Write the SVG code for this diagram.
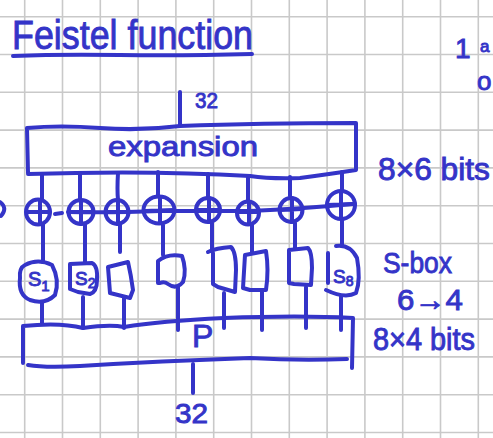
<svg xmlns="http://www.w3.org/2000/svg" width="493" height="438" viewBox="0 0 493 438">
  <defs>
    <style>
      .grid { fill: none; stroke: #c9c9c9; stroke-width: 1.6; }
      .ink { fill: none; stroke: #3434c8; stroke-width: 4; stroke-linecap: round; stroke-linejoin: round; }
      .txt { fill: #3434c8; stroke: #3434c8; stroke-width: 0.9; font-family: "Liberation Sans", "DejaVu Sans", sans-serif; }
    </style>
  </defs>

  <!-- paper -->
  <rect width="493" height="438" fill="#ffffff"/>
  <path class="grid" d="
    M24.7,0 V438 M62.5,0 V438 M100.3,0 V438 M138.1,0 V438 M175.9,0 V438 M213.7,0 V438
    M251.5,0 V438 M289.3,0 V438 M327.1,0 V438 M364.9,0 V438 M402.7,0 V438 M440.5,0 V438 M478.3,0 V438
    M0,16.7 H493 M0,54.5 H493 M0,92.3 H493 M0,130.1 H493 M0,167.9 H493 M0,205.7 H493
    M0,243.5 H493 M0,281.3 H493 M0,319.1 H493 M0,356.9 H493 M0,394.7 H493 M0,432.5 H493"/>

  <!-- heading -->
  <g id="title">
    <text class="txt" x="12" y="49" font-size="40" textLength="241" lengthAdjust="spacingAndGlyphs">Feistel function</text>
    <path class="ink" d="M13,56 Q60,54 120,55 T252,54"/>
  </g>

  <!-- notes at the right edge -->
  <g id="margin-notes">
    <text class="txt" x="455" y="58" font-size="28">1</text>
    <text class="txt" x="480" y="52" font-size="17">a</text>
    <text class="txt" x="477" y="90" font-size="26">o</text>
  </g>

  <!-- wires -->
  <g id="connectors">
    <path class="ink" d="M180,92 L180,125"/>
    <path class="ink" d="M0,202 Q8,208 1,216"/>
    <!-- expansion to xor -->
    <path class="ink" d="M42,175 L42,200 M80,174 L80,200 M118,173 Q117,190 118,200 M158,172 L158,196 M208,174 L208,198 M248,176 L248,201 M290,177 L290,196 M342,172 L342,191"/>
    <!-- key bus -->
    <path class="ink" d="M55,214 L62,213 M68,212 Q110,213 160,211 L250,211 Q300,209 352,204"/>
    <!-- xor to s-boxes -->
    <path class="ink" d="M43,224 L43,262 M85,225 L85,263 M120,224 L120,252 M163,225 L163,255 M212,223 L212,250 M252,225 L252,252 M295,223 L295,248 M342,219 L342,245"/>
    <!-- s-boxes to permutation -->
    <path class="ink" d="M42,302 L42,324 M83,297 L83,328 M124,298 L124,328 M178,287 L178,330 M224,293 L224,328 M262,290 L262,330 M306,287 L306,328 M341,296 L341,330"/>
    <path class="ink" d="M193,364 L193,393"/>
  </g>

  <g id="input-label">
    <text class="txt" x="195" y="108" font-size="22" textLength="23" lengthAdjust="spacingAndGlyphs">32</text>
  </g>

  <g id="expansion">
    <path class="ink" d="M28,173 L27,128 Q60,125 100,128 T180,126 Q260,123 356,123 L356,170 Q330,174 300,178 Q270,179 250,176 Q150,170 28,174"/>
    <text class="txt" x="108" y="156" font-size="27" textLength="150" lengthAdjust="spacingAndGlyphs">expansion</text>
  </g>

  <g id="expansion-label">
    <text class="txt" x="378" y="180" font-size="31" textLength="112" lengthAdjust="spacingAndGlyphs">8×6 bits</text>
  </g>

  <!-- xor gates -->
  <g id="xor-1"><ellipse class="ink" cx="38" cy="212" rx="12" ry="12.5"/><path class="ink" d="M40,201 L40,224 M27,212 L50,212"/></g>
  <g id="xor-2"><ellipse class="ink" cx="81" cy="212" rx="12.5" ry="12"/><path class="ink" d="M81,201 L81,224 M69,212 L93,212"/></g>
  <g id="xor-3"><ellipse class="ink" cx="117" cy="212" rx="11.5" ry="12"/><path class="ink" d="M118,201 L118,224 M106,212 L128,212"/></g>
  <g id="xor-4"><ellipse class="ink" cx="159" cy="210" rx="15.5" ry="13.5"/><path class="ink" d="M160,197 L160,223 M145,211 L173,210"/></g>
  <g id="xor-5"><ellipse class="ink" cx="208" cy="210" rx="12" ry="12"/><path class="ink" d="M209,198 L209,222 M196,210 L220,210"/></g>
  <g id="xor-6"><ellipse class="ink" cx="248" cy="213" rx="11" ry="11.5"/><path class="ink" d="M249,202 L249,224 M237,212 L259,212"/></g>
  <g id="xor-7"><ellipse class="ink" cx="291" cy="210" rx="11.5" ry="12"/><path class="ink" d="M292,198 L292,222 M280,210 L302,209"/></g>
  <g id="xor-8"><ellipse class="ink" cx="341" cy="205" rx="14" ry="14"/><path class="ink" d="M341,192 L341,218 M327,205 L355,204"/></g>

  <!-- substitution boxes -->
  <g id="sbox-1">
    <path class="ink" d="M25,265 Q38,258 52,265 Q60,280 55,295 Q45,305 30,300 Q18,295 20,278 Q19,268 25,265 Z"/>
    <text class="txt" x="28" y="286" font-size="20">S<tspan font-size="15" dy="5">1</tspan></text>
  </g>
  <g id="sbox-2">
    <path class="ink" d="M70,264 L92,263 Q98,266 97,280 Q97,292 90,294 L78,292 L70,289 Z"/>
    <text class="txt" x="75" y="285" font-size="19">S<tspan font-size="14" dy="3">2</tspan></text>
  </g>
  <g id="sbox-3">
    <path class="ink" d="M108,267 L128,262 Q131,275 133,290 L130,298 L110,293 Z"/>
  </g>
  <g id="sbox-4">
    <path class="ink" d="M158,283 L158,261 Q168,253 182,256 Q187,270 183,282 Q176,290 168,284 Q164,281 160,283"/>
  </g>
  <g id="sbox-5">
    <path class="ink" d="M208,252 Q216,248 231,247 Q236,252 236,270 L235,292 L218,287 L213,284 L213,253"/>
  </g>
  <g id="sbox-6">
    <path class="ink" d="M245,255 L266,251 Q269,270 266,290 L250,290 L243,288 Z"/>
  </g>
  <g id="sbox-7">
    <path class="ink" d="M289,250 L308,248 Q312,252 312,268 L311,285 L294,284 L289,283 Z"/>
  </g>
  <g id="sbox-8">
    <path class="ink" d="M336,246 Q350,244 357,258 Q361,280 356,293 Q345,299 326,290 M328,253 L328,283"/>
    <text class="txt" x="333" y="283" font-size="19">S<tspan font-size="14" dy="3">8</tspan></text>
  </g>

  <g id="sbox-label">
    <text class="txt" x="383" y="273" font-size="30" textLength="69" lengthAdjust="spacingAndGlyphs">S-box</text>
    <text class="txt" x="397" y="310" font-size="30" textLength="66" lengthAdjust="spacingAndGlyphs">6→4</text>
  </g>

  <g id="permutation">
    <path class="ink" d="M23,363 L23,326 Q60,322 83,328 Q110,324 124,327 Q160,321 224,318 Q300,315 353,318 L352,368"/>
    <path class="ink" d="M28,365 Q45,368 80,366 Q160,361 250,358 Q300,361 347,359"/>
    <text class="txt" x="192" y="347" font-size="32">P</text>
  </g>

  <g id="permutation-label">
    <text class="txt" x="373" y="350" font-size="31" textLength="102" lengthAdjust="spacingAndGlyphs">8×4 bits</text>
  </g>

  <g id="output-label">
    <text class="txt" x="175" y="423" font-size="27" textLength="33" lengthAdjust="spacingAndGlyphs">32</text>
  </g>
</svg>
